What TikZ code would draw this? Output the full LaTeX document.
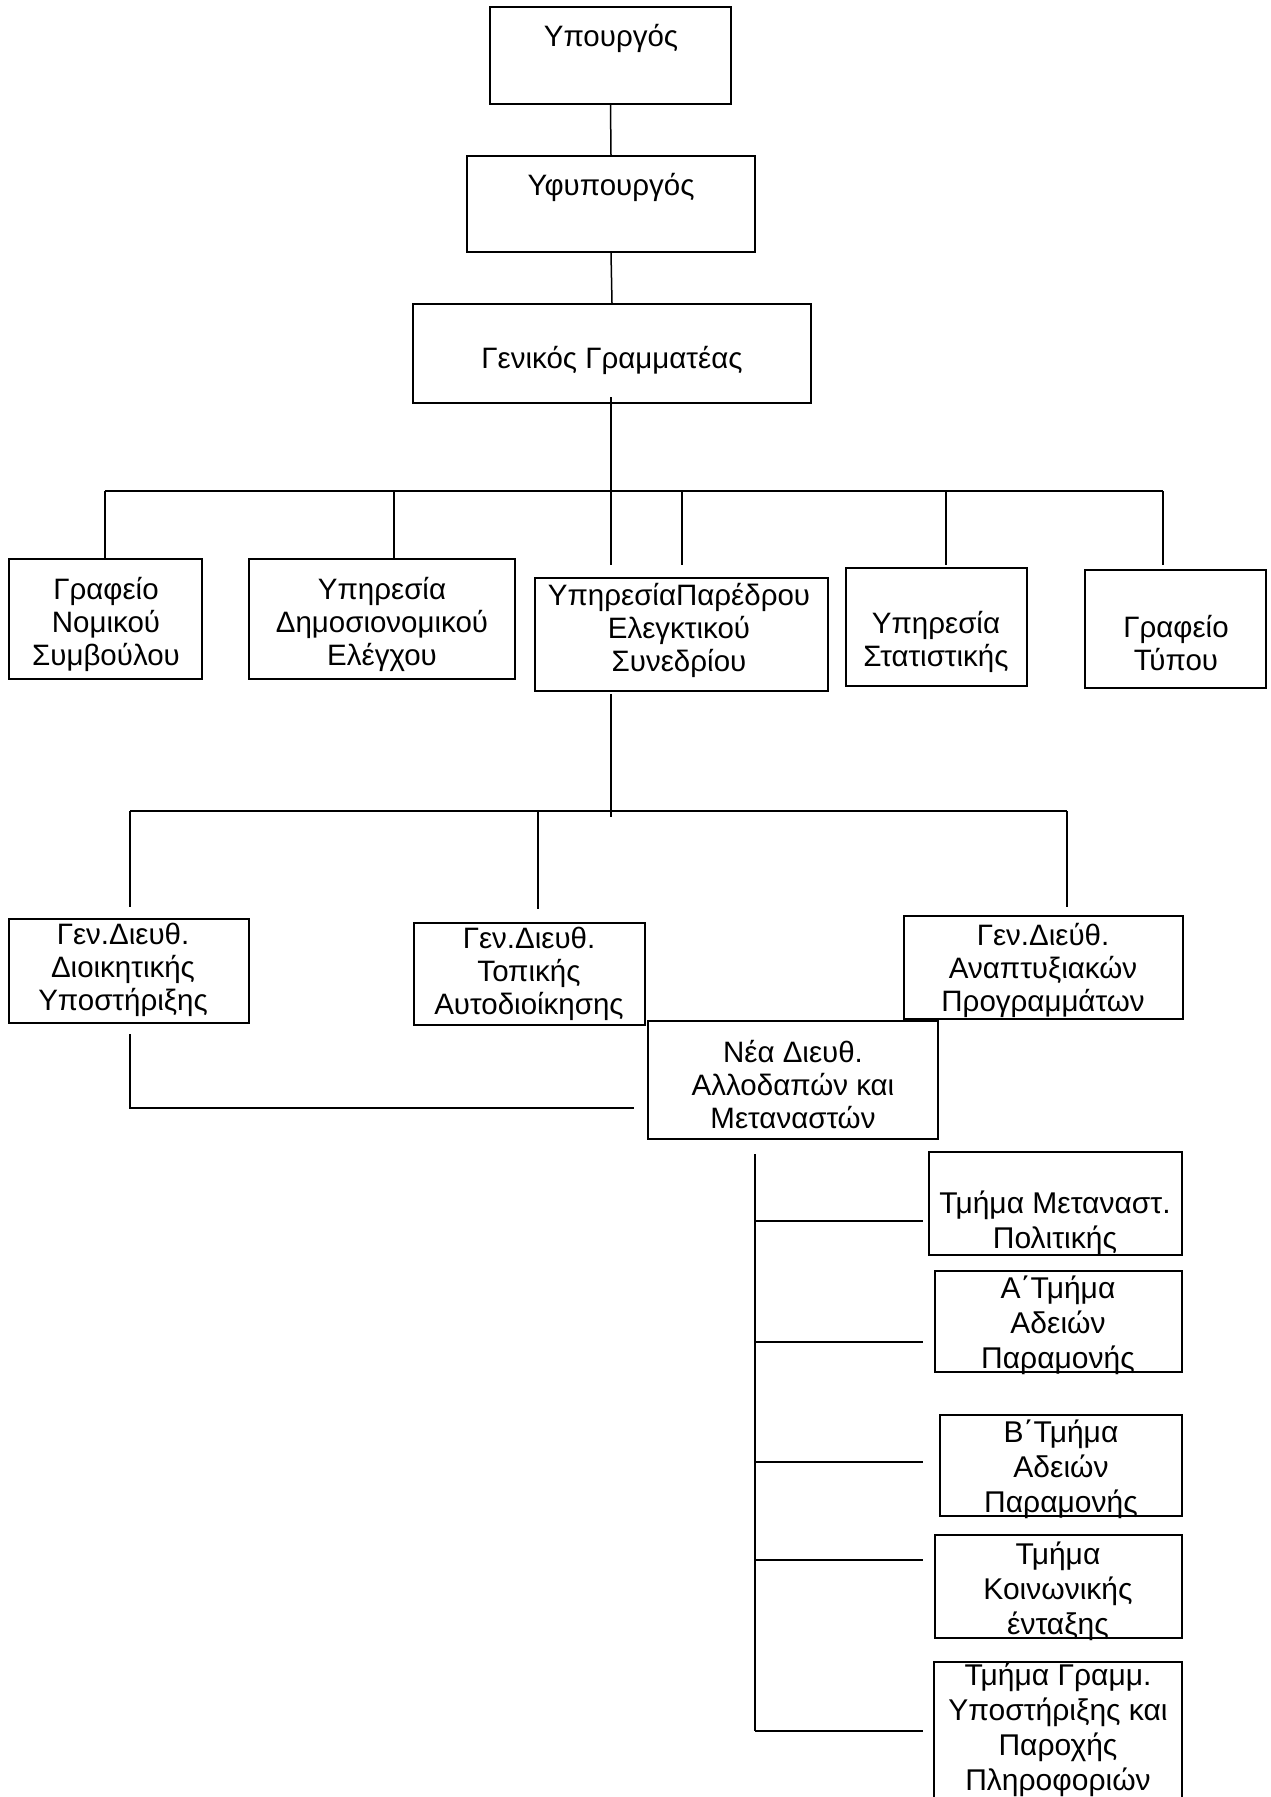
\documentclass[tikz,border=0pt]{standalone}
\usepackage{fontspec}
\setmainfont{Liberation Sans}
\tikzset{
  box/.style={draw, line width=2pt, inner sep=0pt},
  txt/.style={inner sep=0pt, anchor=north, align=center, font=\fontsize{29.5}{33}\selectfont},
  txtb/.style={inner sep=0pt, anchor=north, align=center, font=\fontsize{30}{35}\selectfont},
  conn/.style={line width=1.5pt},
  bus/.style={line width=2pt}
}
\newcommand\mkbox[5]{\node[box, minimum width={(#4-#2)*1pt}, minimum height={(#5-#3)*1pt}] (#1) at ({(#2+#4)/2},{(#3+#5)/2}) {};}
\newcommand\mktxt[5][txt]{\node[#1] (#2) at (#3,{#4-30}) {\rule{0pt}{30pt}#5};}
\begin{document}
\begin{tikzpicture}[x=1pt,y=-1pt]
\useasboundingbox (0,0) rectangle (1271,1797);
\clip (0,0) rectangle (1271,1797);
% boxes
\mkbox{min}{490}{7}{731}{104}
\mkbox{yfyp}{467}{156}{755}{252}
\mkbox{gen}{413}{304}{811}{403}
\mkbox{nom}{9}{559}{202}{679}
\mkbox{dim}{249}{559}{515}{679}
\mkbox{par}{535}{578}{828}{691}
\mkbox{stat}{846}{568}{1027}{686}
\mkbox{typ}{1085}{570}{1266}{688}
\mkbox{dioik}{9}{919}{249}{1023}
\mkbox{topik}{414}{923}{645}{1025}
\mkbox{anapt}{904}{916}{1183}{1019}
\mkbox{nea}{648}{1021}{938}{1139}
\mkbox{ta}{929}{1152}{1182}{1255}
\mkbox{tb}{935}{1271}{1182}{1372}
\mkbox{tc}{940}{1415}{1182}{1516}
\mkbox{td}{935}{1535}{1182}{1638}
\mkbox{te}{934}{1662}{1182}{1830}
% texts
\mktxt{minT}{611}{46}{Υπουργός}
\mktxt{yfypT}{611}{195}{Υφυπουργός}
\mktxt{genT}{612}{368}{Γενικός Γραμματέας}
\mktxt{nomT}{106}{599}{Γραφείο\\Νομικού\\Συμβούλου}
\mktxt{dimT}{382}{599}{Υπηρεσία\\Δημοσιονομικού\\Ελέγχου}
\mktxt{parT}{679}{605}{ΥπηρεσίαΠαρέδρου\\Ελεγκτικού\\Συνεδρίου}
\mktxt{statT}{936}{633}{Υπηρεσία\\Στατιστικής}
\mktxt{typT}{1176}{637}{Γραφείο\\Τύπου}
\mktxt{dioikT}{123}{944}{Γεν.Διευθ.\\Διοικητικής\\Υποστήριξης}
\mktxt{topikT}{529}{948}{Γεν.Διευθ.\\Τοπικής\\Αυτοδιοίκησης}
\mktxt{anaptT}{1043}{945}{Γεν.Διεύθ.\\Αναπτυξιακών\\Προγραμμάτων}
\mktxt{neaT}{793}{1062}{Νέα Διευθ.\\Αλλοδαπών και\\Μεταναστών}
\mktxt[txtb]{taT}{1055}{1213}{Τμήμα Μεταναστ.\\Πολιτικής}
\mktxt[txtb]{tbT}{1058}{1298}{Α΄Τμήμα\\Αδειών\\Παραμονής}
\mktxt[txtb]{tcT}{1061}{1442}{Β΄Τμήμα\\Αδειών\\Παραμονής}
\mktxt[txtb]{tdT}{1058}{1564}{Τμήμα\\Κοινωνικής\\ένταξης}
\mktxt[txtb]{teT}{1058}{1685}{Τμήμα Γραμμ.\\Υποστήριξης και\\Παροχής\\Πληροφοριών}
% coordinates
\coordinate (g0) at (611,397);
\coordinate (g1) at (611,565);
\coordinate (b1L) at (105,491);
\coordinate (b1R) at (1163,491);
\coordinate (d0) at (394,491);
\coordinate (d1) at (682,565);
\coordinate (d2) at (946,565);
\coordinate (d3) at (1163,565);
\coordinate (p0) at (611,694);
\coordinate (p1) at (611,817);
\coordinate (b2L) at (130,811);
\coordinate (b2R) at (1067,811);
\coordinate (e1) at (130,907);
\coordinate (e2) at (538,909);
\coordinate (e3) at (1067,907);
\coordinate (l0) at (130,1034);
\coordinate (l1) at (130,1108);
\coordinate (l2) at (634,1108);
\coordinate (tr0) at (754.6,1154);
\coordinate (tr1) at (754.6,1731);
\coordinate (ha) at (922.5,1221);
\coordinate (hb) at (922.5,1342);
\coordinate (hc) at (922.5,1462);
\coordinate (hd) at (922.5,1560);
\coordinate (he) at (922.5,1731);
% connectors
\draw[conn] (min.south) -- (yfyp.north);
\draw[conn] (yfyp.south) -- (gen.north);
\draw[conn] (g0) -- (g1);
\draw[bus] (b1L) -- (b1R);
\draw[conn] (b1L) -- (b1L |- nom.north);
\draw[conn] (d0) -- (d0 |- dim.north);
\draw[conn] (d1 |- b1L) -- (d1);
\draw[conn] (d2 |- b1L) -- (d2);
\draw[conn] (b1R) -- (d3);
\draw[conn] (p0) -- (p1);
\draw[bus] (b2L) -- (b2R);
\draw[conn] (b2L) -- (e1);
\draw[conn] (e2 |- b2L) -- (e2);
\draw[conn] (b2R) -- (e3);
\draw[bus] (l0) -- (l1) -- (l2);
\draw[bus] (tr0) -- (tr1);
\draw[bus] (tr0 |- ha) -- (ha);
\draw[bus] (tr0 |- hb) -- (hb);
\draw[bus] (tr0 |- hc) -- (hc);
\draw[bus] (tr0 |- hd) -- (hd);
\draw[bus] (tr0 |- he) -- (he);
\end{tikzpicture}
\end{document}
